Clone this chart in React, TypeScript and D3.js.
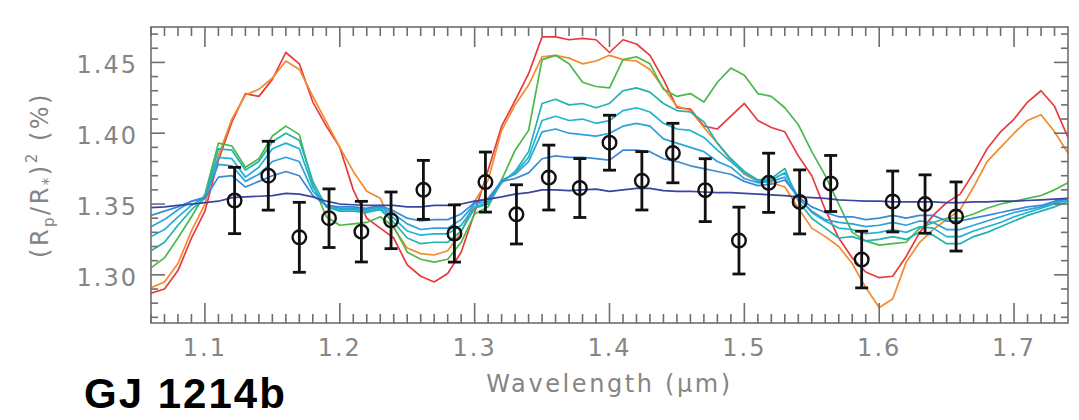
import React from "react";
import * as d3 from "d3";

// Wavelength grid of the model spectra (µm)
const modelWave = [
  1.06, 1.07, 1.08, 1.09, 1.1, 1.11, 1.12, 1.13, 1.14, 1.15, 1.16, 1.17, 1.18, 1.19, 1.2, 1.21, 1.22,
  1.23, 1.24, 1.25, 1.26, 1.27, 1.28, 1.29, 1.3, 1.31, 1.32, 1.33, 1.34, 1.35, 1.36, 1.37, 1.38, 1.39,
  1.4, 1.41, 1.42, 1.43, 1.44, 1.45, 1.46, 1.47, 1.48, 1.49, 1.5, 1.51, 1.52, 1.53, 1.54, 1.55, 1.56,
  1.57, 1.58, 1.59, 1.6, 1.61, 1.62, 1.63, 1.64, 1.65, 1.66, 1.67, 1.68, 1.69, 1.7, 1.71, 1.72, 1.73, 1.74,
];

// Model transit depths (%), one array per model
const modelRed = [
  1.287, 1.29, 1.303, 1.326, 1.345, 1.381, 1.408, 1.428, 1.426, 1.438, 1.457, 1.449, 1.422, 1.405, 1.39, 1.36, 1.34,
  1.333, 1.326, 1.307, 1.299, 1.295, 1.301, 1.316, 1.344, 1.374, 1.405, 1.423, 1.442, 1.468, 1.468, 1.466, 1.467, 1.466,
  1.457, 1.466, 1.463, 1.455, 1.438, 1.418, 1.417, 1.405, 1.403, 1.412, 1.421, 1.409, 1.404, 1.401, 1.384, 1.37, 1.346,
  1.326, 1.312, 1.302, 1.298, 1.299, 1.313, 1.33, 1.342, 1.351, 1.357, 1.372, 1.389, 1.401, 1.41, 1.422, 1.43, 1.419, 1.397,
];
const modelOrange = [
  1.291, 1.295, 1.308, 1.331, 1.35, 1.384, 1.41, 1.427, 1.431, 1.439, 1.451, 1.445, 1.426, 1.408, 1.39, 1.373, 1.359,
  1.354, 1.333, 1.319, 1.315, 1.314, 1.317, 1.33, 1.352, 1.367, 1.402, 1.42, 1.434, 1.454, 1.455, 1.453, 1.449, 1.451,
  1.455, 1.452, 1.451, 1.445, 1.432, 1.419, 1.416, 1.404, 1.393, 1.381, 1.371, 1.366, 1.365, 1.362, 1.347, 1.333, 1.327,
  1.32, 1.308, 1.291, 1.277, 1.283, 1.309, 1.323, 1.332, 1.339, 1.346, 1.362, 1.38, 1.39, 1.4, 1.409, 1.413, 1.401, 1.386,
];
const modelGreen = [
  1.305, 1.312, 1.326, 1.341, 1.357, 1.393, 1.391, 1.376, 1.382, 1.398, 1.405, 1.399, 1.364, 1.341, 1.335, 1.336, 1.337,
  1.341, 1.334, 1.316, 1.311, 1.309, 1.311, 1.323, 1.343, 1.348, 1.367, 1.388, 1.402, 1.452, 1.455, 1.449, 1.436, 1.433,
  1.432, 1.452, 1.454, 1.449, 1.431, 1.426, 1.428, 1.422, 1.436, 1.446, 1.441, 1.428, 1.426, 1.418, 1.406, 1.387, 1.37,
  1.35, 1.33, 1.324, 1.321, 1.322, 1.323, 1.333, 1.337, 1.34, 1.34, 1.343, 1.347, 1.35, 1.352, 1.354, 1.356, 1.36, 1.365,
];
const modelTeal = [
  1.317, 1.323, 1.335, 1.346, 1.354, 1.389, 1.388, 1.374, 1.38, 1.394, 1.4, 1.395, 1.366, 1.348, 1.345, 1.345, 1.344,
  1.346, 1.337, 1.326, 1.322, 1.323, 1.323, 1.331, 1.347, 1.35, 1.365, 1.373, 1.387, 1.421, 1.424, 1.42, 1.421, 1.418,
  1.421, 1.43, 1.432, 1.429, 1.421, 1.416, 1.415, 1.408, 1.393, 1.382, 1.373, 1.367, 1.368, 1.375, 1.352, 1.34, 1.333,
  1.326, 1.327, 1.324, 1.325, 1.327, 1.325, 1.33, 1.328, 1.322, 1.322, 1.327, 1.33, 1.334, 1.338, 1.342, 1.345, 1.348, 1.352,
];
const modelAqua = [
  1.327, 1.332, 1.341, 1.349, 1.355, 1.383, 1.382, 1.369, 1.376, 1.389, 1.393, 1.389, 1.362, 1.348, 1.346, 1.346, 1.345,
  1.347, 1.34, 1.331, 1.328, 1.329, 1.329, 1.335, 1.348, 1.351, 1.366, 1.372, 1.383, 1.409, 1.412, 1.409, 1.41, 1.407,
  1.409, 1.416, 1.418, 1.415, 1.407, 1.403, 1.402, 1.397, 1.388, 1.38, 1.372, 1.366, 1.367, 1.372, 1.355, 1.344, 1.338,
  1.333, 1.332, 1.329, 1.33, 1.332, 1.33, 1.334, 1.333, 1.327, 1.327, 1.331, 1.334, 1.337, 1.341, 1.344, 1.347, 1.35, 1.353,
];
const modelCyan = [
  1.334, 1.339, 1.346, 1.352, 1.355, 1.378, 1.377, 1.366, 1.371, 1.38, 1.383, 1.38, 1.359, 1.349, 1.347, 1.347, 1.346,
  1.348, 1.343, 1.336, 1.332, 1.333, 1.333, 1.339, 1.35, 1.352, 1.367, 1.371, 1.38, 1.401, 1.403, 1.4, 1.399, 1.398,
  1.4, 1.405, 1.407, 1.405, 1.396, 1.393, 1.39, 1.387, 1.38, 1.376, 1.368, 1.365, 1.366, 1.369, 1.354, 1.345, 1.339,
  1.337, 1.336, 1.334, 1.335, 1.337, 1.335, 1.338, 1.337, 1.332, 1.332, 1.335, 1.338, 1.341, 1.344, 1.346, 1.348, 1.351, 1.354,
];
const modelBlue = [
  1.342, 1.345, 1.348, 1.352, 1.354, 1.369, 1.37, 1.362, 1.366, 1.37, 1.373, 1.37, 1.356, 1.349, 1.348, 1.348, 1.347,
  1.349, 1.345, 1.34, 1.338, 1.339, 1.339, 1.343, 1.351, 1.354, 1.366, 1.368, 1.372, 1.382, 1.384, 1.383, 1.383, 1.382,
  1.381, 1.388, 1.388, 1.387, 1.382, 1.38, 1.377, 1.375, 1.373, 1.371, 1.366, 1.363, 1.364, 1.367, 1.355, 1.348, 1.344,
  1.341, 1.341, 1.339, 1.34, 1.342, 1.34, 1.342, 1.342, 1.338, 1.338, 1.34, 1.342, 1.344, 1.346, 1.348, 1.349, 1.352, 1.354,
];
const modelNavy = [
  1.3475, 1.348, 1.349, 1.35, 1.351, 1.352, 1.3545, 1.355, 1.3555, 1.356, 1.3575, 1.357, 1.355, 1.352, 1.35, 1.3495, 1.349,
  1.349, 1.349, 1.348, 1.348, 1.349, 1.349, 1.35, 1.352, 1.3535, 1.355, 1.357, 1.358, 1.36, 1.36, 1.3595, 1.36, 1.3605,
  1.359, 1.36, 1.361, 1.361, 1.3595, 1.359, 1.359, 1.3585, 1.358, 1.358, 1.3575, 1.357, 1.3565, 1.356, 1.355, 1.3545, 1.354,
  1.353, 1.3525, 1.352, 1.352, 1.3515, 1.3515, 1.3515, 1.3515, 1.351, 1.351, 1.3515, 1.3515, 1.352, 1.352, 1.3525, 1.353, 1.3535, 1.354,
];

// Measured spectrum: bin centres (µm), depth (%), 1σ uncertainty (%)
const obsWave = [
  1.122, 1.147, 1.17, 1.192, 1.216, 1.238, 1.262, 1.285, 1.308, 1.331, 1.355, 1.378,
  1.4, 1.424, 1.447, 1.471, 1.496, 1.518, 1.541, 1.564, 1.587, 1.61, 1.634, 1.657,
];
const obsDepth = [
  1.3525, 1.37, 1.3265, 1.34, 1.3305, 1.3385, 1.36, 1.3292, 1.3655, 1.3427, 1.3687, 1.3613,
  1.3933, 1.3664, 1.386, 1.3598, 1.3242, 1.365, 1.3515, 1.3645, 1.3108, 1.3518, 1.35, 1.3412,
];
const obsErr = [
  0.0234, 0.0243, 0.0247, 0.0207, 0.0214, 0.02, 0.0208, 0.0202, 0.0212, 0.0209, 0.0229, 0.0208,
  0.0194, 0.0206, 0.021, 0.0222, 0.0236, 0.0209, 0.0226, 0.0198, 0.02, 0.0215, 0.0206, 0.0244,
];

const xMajorTicks = [1.1, 1.2, 1.3, 1.4, 1.5, 1.6, 1.7];
const xMajorLabels = ["1.1", "1.2", "1.3", "1.4", "1.5", "1.6", "1.7"];
const yMajorTicks = [1.3, 1.35, 1.4, 1.45];
const yMajorLabels = ["1.30", "1.35", "1.40", "1.45"];
const xMinorTicks = [
  1.06, 1.07, 1.08, 1.09, 1.11, 1.12, 1.13, 1.14, 1.15, 1.16, 1.17, 1.18, 1.19, 1.21, 1.22, 1.23, 1.24,
  1.25, 1.26, 1.27, 1.28, 1.29, 1.31, 1.32, 1.33, 1.34, 1.35, 1.36, 1.37, 1.38, 1.39, 1.41, 1.42, 1.43,
  1.44, 1.45, 1.46, 1.47, 1.48, 1.49, 1.51, 1.52, 1.53, 1.54, 1.55, 1.56, 1.57, 1.58, 1.59, 1.61, 1.62,
  1.63, 1.64, 1.65, 1.66, 1.67, 1.68, 1.69, 1.71, 1.72, 1.73,
];
const yMinorTicks = [
  1.27, 1.28, 1.29, 1.31, 1.32, 1.33, 1.34, 1.36, 1.37, 1.38, 1.39, 1.41, 1.42, 1.43, 1.44, 1.46, 1.47,
];

const models = [
  { name: "red", values: modelRed, color: "#e83a3e" },
  { name: "orange", values: modelOrange, color: "#f28a2e" },
  { name: "green", values: modelGreen, color: "#4cb84a" },
  { name: "teal", values: modelTeal, color: "#22b3ad" },
  { name: "aqua", values: modelAqua, color: "#1fb2d2" },
  { name: "cyan", values: modelCyan, color: "#2aa2de" },
  { name: "blue", values: modelBlue, color: "#3a8ad6" },
  { name: "navy", values: modelNavy, color: "#3b45a0" },
];

const W = 1079;
const H = 420;
const left = 151;
const right = 1068;
const top = 27;
const bottom = 323;

const axisColor = "#6e6e6e";
const labelColor = "#858585";
const labelFont = "'DejaVu Sans', 'Liberation Sans', sans-serif";

export default function App() {
  const x = d3.scaleLinear().domain([1.06, 1.74]).range([left, right]);
  const y = d3.scaleLinear().domain([1.266, 1.475]).range([bottom, top]);

  const line = d3
    .line<number>()
    .x((_, i) => x(modelWave[i]))
    .y((d) => y(d));

  const capHalf = 6.5;

  return (
    <svg
      width={W}
      height={H}
      style={{ position: "absolute", left: 0, top: 0, background: "#fff" }}
    >
      <defs>
        <clipPath id="plotArea">
          <rect x={left} y={top} width={right - left} height={bottom - top} />
        </clipPath>
      </defs>

      {/* model spectra */}
      <g clipPath="url(#plotArea)" fill="none" strokeWidth={1.7} strokeLinejoin="round">
        {models.map((m) => (
          <path key={m.name} d={line(m.values) || ""} stroke={m.color} />
        ))}
      </g>

      {/* measured points with error bars */}
      <g stroke="#111" fill="none">
        {obsWave.map((w, i) => {
          const cx = x(w);
          const cy = y(obsDepth[i]);
          const y0 = y(obsDepth[i] - obsErr[i]);
          const y1 = y(obsDepth[i] + obsErr[i]);
          return (
            <g key={i}>
              <line x1={cx} x2={cx} y1={y1} y2={y0} strokeWidth={2.8} />
              <line x1={cx - capHalf} x2={cx + capHalf} y1={y1} y2={y1} strokeWidth={2.8} />
              <line x1={cx - capHalf} x2={cx + capHalf} y1={y0} y2={y0} strokeWidth={2.8} />
              <circle cx={cx} cy={cy} r={6.8} strokeWidth={2.4} />
            </g>
          );
        })}
      </g>

      {/* frame and ticks */}
      <g stroke={axisColor} strokeWidth={1.6} fill="none">
        <rect x={left} y={top} width={right - left} height={bottom - top} />
        {xMajorTicks.map((t) => (
          <g key={"xM" + t}>
            <line x1={x(t)} x2={x(t)} y1={bottom} y2={bottom - 20} />
            <line x1={x(t)} x2={x(t)} y1={top} y2={top + 20} />
          </g>
        ))}
        {xMinorTicks.map((t) => (
          <g key={"xm" + t}>
            <line x1={x(t)} x2={x(t)} y1={bottom} y2={bottom - 9} />
            <line x1={x(t)} x2={x(t)} y1={top} y2={top + 9} />
          </g>
        ))}
        {yMajorTicks.map((t) => (
          <g key={"yM" + t}>
            <line x1={left} x2={left + 14} y1={y(t)} y2={y(t)} />
            <line x1={right} x2={right - 14} y1={y(t)} y2={y(t)} />
          </g>
        ))}
        {yMinorTicks.map((t) => (
          <g key={"ym" + t}>
            <line x1={left} x2={left + 7} y1={y(t)} y2={y(t)} />
            <line x1={right} x2={right - 7} y1={y(t)} y2={y(t)} />
          </g>
        ))}
      </g>

      {/* tick labels */}
      <g fill={labelColor} fontFamily={labelFont} fontSize={24} letterSpacing={2}>
        {xMajorTicks.map((t, i) => (
          <text key={"xl" + t} x={x(t)} y={356} textAnchor="middle">
            {xMajorLabels[i]}
          </text>
        ))}
        {yMajorTicks.map((t, i) => (
          <text key={"yl" + t} x={138} y={y(t) + 11} textAnchor="end">
            {yMajorLabels[i]}
          </text>
        ))}
      </g>

      {/* axis titles */}
      <text
        x={(left + right) / 2}
        y={392}
        textAnchor="middle"
        fill={labelColor}
        fontFamily={labelFont}
        fontSize={24}
        letterSpacing={2.6}
      >
        Wavelength (μm)
      </text>
      <text
        transform={`translate(48, ${(top + bottom) / 2}) rotate(-90)`}
        textAnchor="middle"
        fill={labelColor}
        fontFamily={labelFont}
        fontSize={24}
        letterSpacing={2.5}
      >
        <tspan>(R</tspan>
        <tspan fontSize={15} dy={6}>p</tspan>
        <tspan dy={-6}>/R</tspan>
        <tspan fontSize={15} dy={6}>*</tspan>
        <tspan dy={-6}>)</tspan>
        <tspan fontSize={15} dy={-11}>2</tspan>
        <tspan dy={11}> (%)</tspan>
      </text>

      {/* planet name */}
      <text
        x={84}
        y={408}
        fill="#000"
        fontFamily="'Liberation Sans', Arial, sans-serif"
        fontWeight="bold"
        fontSize={42}
        letterSpacing={2}
      >
        GJ 1214b
      </text>
    </svg>
  );
}
